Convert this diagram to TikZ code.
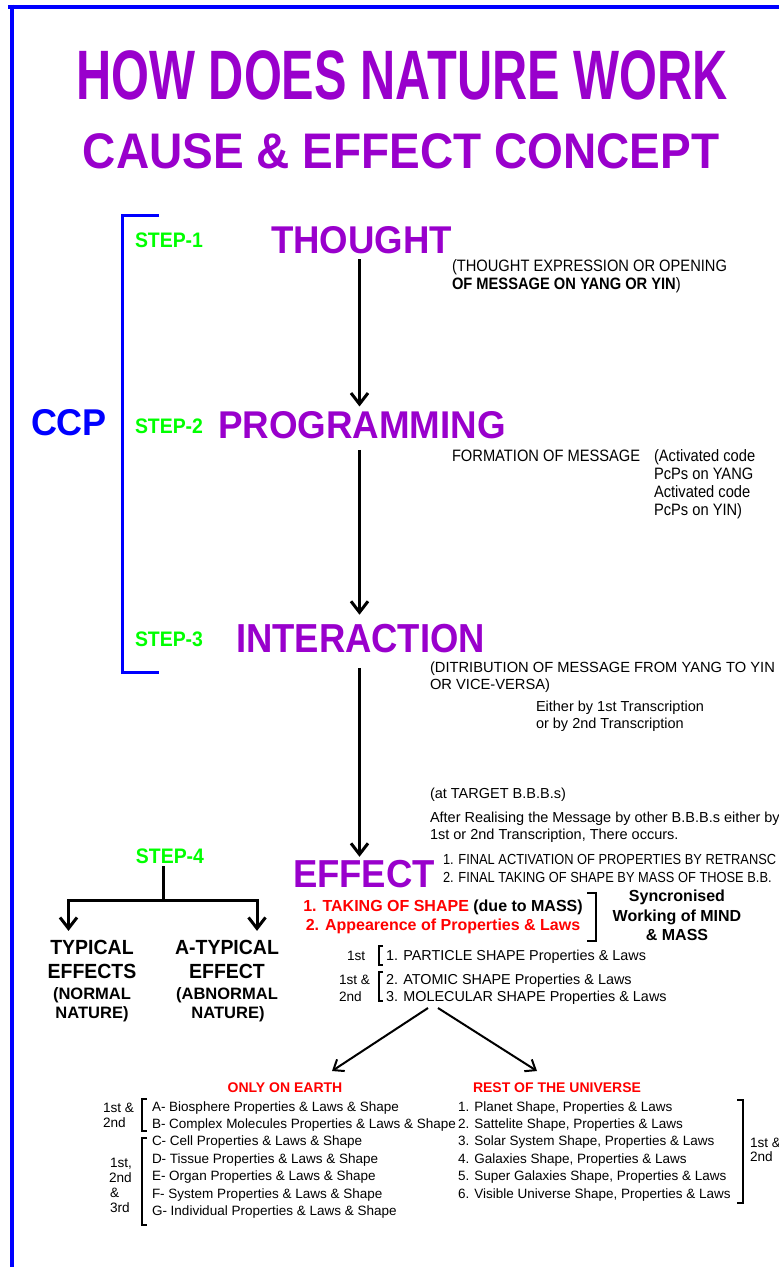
\documentclass[tikz,border=0pt]{standalone}
\usepackage{fontspec}
\setmainfont{Liberation Sans}
\usetikzlibrary{arrows.meta}
\definecolor{cpurple}{RGB}{153,0,204}
\definecolor{cgreen}{RGB}{0,255,0}
\definecolor{cblue}{RGB}{0,0,255}
\definecolor{cred}{RGB}{255,0,0}
\newcommand\fsz[1]{\fontsize{#1}{#1}\selectfont}
\newcommand\sx[2]{\scalebox{#1}[1]{#2}}
\begin{document}
\begin{tikzpicture}[x=1pt,y=-1pt,
 every node/.style={inner sep=0pt,outer sep=0pt},
 tw/.style={anchor=base west},
 tc/.style={anchor=base},
 stp/.style={tw,text=cgreen,font=\fsz{21}\bfseries},
 big/.style={tw,text=cpurple},
 nar/.style={tw,font=\fsz{16.5}},
 bod/.style={tw,font=\fsz{14.5}},
 bld/.style={tc,font=\fsz{16}\bfseries},
 typ/.style={tc,font=\fsz{20.5}\bfseries},
 typs/.style={tc,font=\fsz{16.5}\bfseries},
 lst/.style={tw,font=\fsz{13.5}},
 lab/.style={tw,font=\fsz{13.6}},
 arr/.style={line width=3pt,-{Straight Barb[length=11pt,width=17pt]}},
 arrtwo/.style={line width=2pt,-{Straight Barb[length=9pt,width=14pt]}},
 ln/.style={line width=3pt},
 brk/.style={line width=2pt},
 bluebrk/.style={cblue,line width=3pt},
]
\useasboundingbox (0,0) rectangle (779,1267);
\clip (0,0) rectangle (779,1267);
\fill[white] (0,0) rectangle (779,1267);
% border
\draw[cblue,line width=4.5pt] (8,6.8) -- (779,6.8);
\draw[cblue,line width=4.5pt] (11.8,4.6) -- (11.8,1267);
% titles
\node[tc,text=cpurple,font=\fsz{70}\bfseries] (title) at (402,99) {\sx{0.696}{HOW DOES NATURE WORK}};
\node[tc,text=cpurple,font=\fsz{50}\bfseries] (sub) at (401,168) {\sx{0.92}{CAUSE \& EFFECT CONCEPT}};
% CCP bracket
\node[tw,text=cblue,font=\fsz{37.3}\bfseries] (ccp) at (31,435) {\sx{0.965}{CCP}};
\draw[bluebrk] (159,215) -- (122.5,215) -- (122.5,672) -- (159,672);
\node[stp] (s1) at (135,247) {\sx{0.925}{STEP-1}};
\node[stp] (s2) at (135,433) {\sx{0.925}{STEP-2}};
\node[stp] (s3) at (135,646) {\sx{0.925}{STEP-3}};
% main steps
\node[big,font=\fsz{38.7}\bfseries] (thought) at (271,253) {\sx{0.946}{THOUGHT}};
\node[big,font=\fsz{38.7}\bfseries] (prog) at (218,438) {\sx{0.95}{PROGRAMMING}};
\node[big,font=\fsz{40.5}\bfseries] (inter) at (236,652) {\sx{0.90}{INTERACTION}};
\node[big,font=\fsz{39}\bfseries] (effect) at (293,887) {\sx{0.936}{EFFECT}};
\coordinate (ax) at (359.5,0);
\draw[arr,shorten <=6pt,shorten >=4.5pt] (thought.south -| ax) -- (prog.north -| ax);
\draw[arr,shorten <=11.5pt,shorten >=9pt] (prog.south -| ax) -- (inter.north -| ax);
\draw[arr,shorten <=15.5pt,shorten >=3pt] (inter.south -| ax) -- (effect.north -| ax);
% narrow notes
\node[nar] (n1) at (452,271) {\sx{0.89}{(THOUGHT EXPRESSION OR OPENING}};
\node[nar] (n2) at (452,289) {\sx{0.89}{\bfseries OF MESSAGE ON YANG OR YIN\mdseries)}};
\node[nar] (n3) at (452,461) {\sx{0.89}{FORMATION OF MESSAGE}};
\node[nar] (n4) at (654,461) {\sx{0.89}{(Activated code}};
\node[nar] (n5) at (654,479) {\sx{0.89}{PcPs on YANG}};
\node[nar] (n6) at (654,497) {\sx{0.89}{Activated code}};
\node[nar] (n7) at (654,515) {\sx{0.89}{PcPs on YIN)}};
% body notes
\node[bod,font=\fsz{14.7}] (b1) at (430,672) {(DITRIBUTION OF MESSAGE FROM YANG TO YIN};
\node[bod,font=\fsz{14.7}] (b2) at (430,689) {OR VICE-VERSA)};
\node[bod] (b3) at (536,711) {Either by 1st Transcription};
\node[bod] (b4) at (536,728) {or by 2nd Transcription};
\node[bod] (b5) at (430,798) {(at TARGET B.B.B.s)};
\node[bod] (b6) at (430,822) {After Realising the Message by other B.B.B.s either by};
\node[bod] (b7) at (430,839) {1st or 2nd Transcription, There occurs.};
\node[bod,font=\fsz{14.6}] (b8) at (443,864) {\sx{0.88}{1. FINAL ACTIVATION OF PROPERTIES BY RETRANSC}};
\node[bod,font=\fsz{14.6}] (b9) at (443,882) {\sx{0.88}{2. FINAL TAKING OF SHAPE BY MASS OF THOSE B.B.}};
% effect results
\node[bld] (tk) at (443,911) {\textcolor{cred}{1. TAKING OF SHAPE} (due to MASS)};
\node[bld,text=cred] (ap) at (443,930) {2. Appearence of Properties \& Laws};
\draw[line width=2.6pt] (587,893) -- (596,893) -- (596,941) -- (587,941);
\node[bld] (sy1) at (677,901) {Syncronised};
\node[bld] (sy2) at (677,921) {Working of MIND};
\node[bld] (sy3) at (677,940) {\& MASS};
% particle list
\node[lab] (l1) at (347,960) {1st};
\node[lab] (l2) at (339,984) {1st \&};
\node[lab] (l3) at (339,1001) {2nd};
\draw[brk] (383,946) -- (378.8,946) -- (378.8,965) -- (383,965);
\draw[brk] (383,972) -- (378.8,972) -- (378.8,1001) -- (383,1001);
\node[tw,font=\fsz{14.4}] (p1) at (386,960) {1. PARTICLE SHAPE Properties \& Laws};
\node[tw,font=\fsz{14.4}] (p2) at (386,984) {2. ATOMIC SHAPE Properties \& Laws};
\node[tw,font=\fsz{14.4}] (p3) at (386,1001) {3. MOLECULAR SHAPE Properties \& Laws};
% step 4
\node[tc,text=cgreen,font=\fsz{21}\bfseries] (s4) at (170,863) {\sx{0.925}{STEP-4}};
\node[typ] (ty1) at (92,954) {\sx{0.95}{TYPICAL}};
\node[typ] (ty2) at (92,978) {\sx{0.95}{EFFECTS}};
\node[typs] (ty3) at (92,999) {(NORMAL};
\node[typs] (ty4) at (92,1018) {NATURE)};
\node[typ] (at1) at (227,954) {\sx{0.95}{A-TYPICAL}};
\node[typ] (at2) at (227,978) {\sx{0.95}{EFFECT}};
\node[typs] (at3) at (227,999) {(ABNORMAL};
\node[typs] (at4) at (228,1018) {NATURE)};
\coordinate (j) at (163,900);
\coordinate (jl) at (68.5,900);
\coordinate (jr) at (257,900);
\draw[ln,shorten <=3pt] (s4.south -| j) -- (j);
\draw[arr,shorten >=8.8pt] (j) -| (jl |- ty1.north);
\draw[arr,shorten >=8.8pt] (j) -| (jr |- at1.north);
% lower split
\node[tc,text=cred,font=\fsz{14}\bfseries] (earth) at (285,1092) {ONLY ON EARTH};
\node[tw,text=cred,font=\fsz{14}\bfseries] (rest) at (473,1092) {REST OF THE UNIVERSE};
\coordinate (d1s) at (428,1008);
\coordinate (d1e) at (332,1071);
\coordinate (d2s) at (438,1008);
\coordinate (d2e) at (537,1071);
\draw[arrtwo] (d1s) -- (d1e);
\draw[arrtwo] (d2s) -- (d2e);
% earth list
\node[lab] (e1) at (103,1112) {1st \&};
\node[lab] (e2) at (103,1127) {2nd};
\node[lab] (e3) at (110,1167) {1st,};
\node[lab] (e4) at (109,1182) {2nd};
\node[lab] (e5) at (110,1197) {\&};
\node[lab] (e6) at (110,1212) {3rd};
\draw[brk] (147,1099) -- (141.6,1099) -- (141.6,1131) -- (147,1131);
\draw[brk] (147,1138) -- (141.6,1138) -- (141.6,1225) -- (147,1225);
\node[lst] (ia) at (152,1111) {A- Biosphere Properties \& Laws \& Shape};
\node[lst] (ib) at (152,1128.4) {B- Complex Molecules Properties \& Laws \& Shape};
\node[lst] (ic) at (152,1145.8) {C- Cell Properties \& Laws \& Shape};
\node[lst] (id) at (152,1163.2) {D- Tissue Properties \& Laws \& Shape};
\node[lst] (ie) at (152,1180.6) {E- Organ Properties \& Laws \& Shape};
\node[lst] (if) at (152,1198) {F- System Properties \& Laws \& Shape};
\node[lst] (ig) at (152,1215.4) {G- Individual Properties \& Laws \& Shape};
% universe list
\node[lst] (u1) at (458,1111) {1. Planet Shape, Properties \& Laws};
\node[lst] (u2) at (458,1128.4) {2. Sattelite Shape, Properties \& Laws};
\node[lst] (u3) at (458,1145.8) {3. Solar System Shape, Properties \& Laws};
\node[lst] (u4) at (458,1163.2) {4. Galaxies Shape, Properties \& Laws};
\node[lst] (u5) at (458,1180.6) {5. Super Galaxies Shape, Properties \& Laws};
\node[lst] (u6) at (458,1198) {6. Visible Universe Shape, Properties \& Laws};
\draw[brk] (737,1100) -- (742.6,1100) -- (742.6,1203) -- (737,1203);
\node[lab] (r1) at (750,1147) {1st \&};
\node[lab] (r2) at (750,1161) {2nd};
\end{tikzpicture}
\end{document}
